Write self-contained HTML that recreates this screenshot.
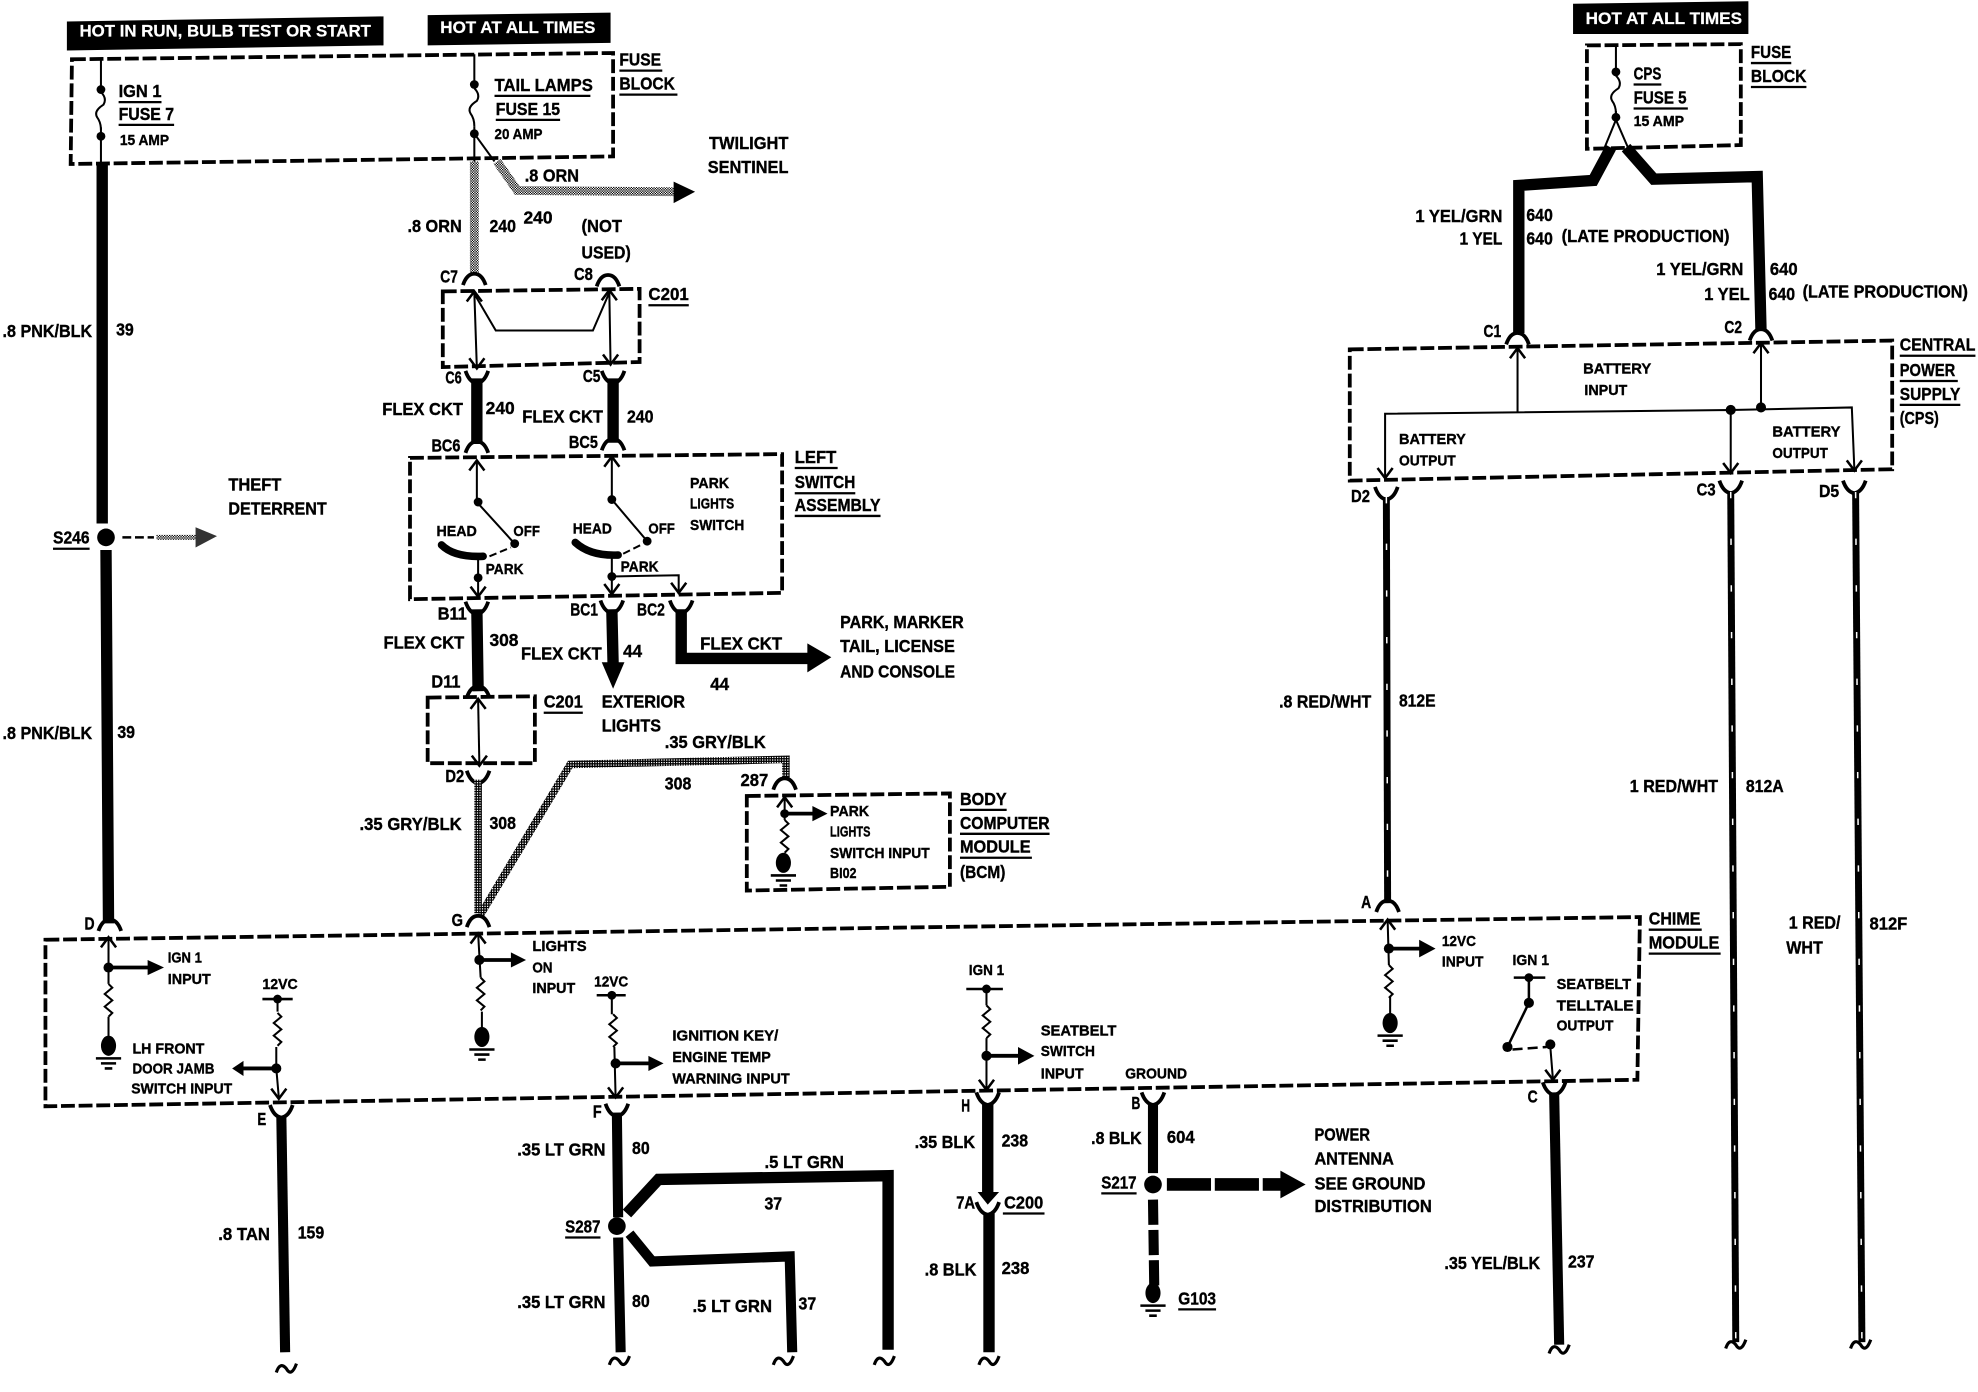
<!DOCTYPE html>
<html><head><meta charset="utf-8"><title>Chime module wiring diagram</title>
<style>
html,body{margin:0;padding:0;background:#fff}
svg{display:block}
text{font-family:"Liberation Sans",sans-serif;font-weight:bold;font-size:14px;fill:#000;stroke:#000;stroke-width:.3}
.s{font-size:12px}
.w{fill:#fff;stroke:#fff;stroke-width:.2;font-size:13px}
.d{fill:none;stroke:#000;stroke-width:3;stroke-dasharray:11 3}
.l{fill:none;stroke:#000;stroke-width:1.6}
.u{fill:none;stroke:#000;stroke-width:1.8}
.a{fill:none;stroke:#000;stroke-width:3}
.k{fill:none;stroke:#000;stroke-width:9}
.g{fill:none;stroke:url(#dith);stroke-width:6}
.o{fill:none;stroke:url(#dith2);stroke-width:7}
.h{fill:none;stroke:#000;stroke-width:5.5}
.hw{fill:none;stroke:#fff;stroke-width:1.2;stroke-dasharray:5 32}
</style></head><body>
<svg xmlns="http://www.w3.org/2000/svg" width="1978" height="1392" viewBox="0 0 1568 1103.5">
<defs>
<pattern id="dith" patternUnits="userSpaceOnUse" width="2" height="2"><rect width="2" height="2" fill="#000"/><rect width="1" height="1" fill="#fff"/></pattern>
<pattern id="dith2" patternUnits="userSpaceOnUse" width="2" height="2"><rect width="2" height="2" fill="#fff"/><rect width="1" height="1" fill="#000"/><rect x="1" y="1" width="1" height="1" fill="#000"/></pattern>
<g id="au"><path d="M-9 5Q-6 -4 0 -4Q6 -4 9 5" fill="none" stroke="#000" stroke-width="3"/></g>
<g id="ad"><path d="M-9 -6Q-6 3 0 4Q6 3 9 -6" fill="none" stroke="#000" stroke-width="3"/></g>
<g id="cu"><path d="M-6 8L0 0L6 8" fill="none" stroke="#000" stroke-width="2"/></g>
<g id="cd"><path d="M-6 -8L0 0L6 -8" fill="none" stroke="#000" stroke-width="2"/></g>
<g id="res"><path d="M0 0l3 3l-6 5l6 5l-6 5l6 5l-3 3" fill="none" stroke="#000" stroke-width="1.6"/></g>
<g id="fu"><path d="M0 0Q5 5 2 10Q-6 15 -3 20Q0 24 0 30" fill="none" stroke="#000" stroke-width="1.6"/></g>
<g id="gnd"><ellipse cx="0" cy="0" rx="6" ry="8"/><path d="M-10 10H10M-6 14H6M-3 18H3" stroke="#000" stroke-width="2"/></g>
<g id="ti"><path d="M-8 5Q-5 -4 0 2Q4 9 8 -2" fill="none" stroke="#000" stroke-width="2.5"/></g>
</defs>
<rect width="1568" height="1104" fill="#fff"/>

<!-- headers -->
<polygon points="53,17 304,13 304,36 53,40"/>
<polygon points="339,12 484,10 484,34 339,36"/>
<polygon points="1247,3 1386,1 1386,27 1247,27"/>
<text class="w" x="63" y="29" textLength="231" lengthAdjust="spacingAndGlyphs">HOT IN RUN, BULB TEST OR START</text>
<text class="w" x="349" y="26" textLength="123" lengthAdjust="spacingAndGlyphs">HOT AT ALL TIMES</text>
<text class="w" x="1257" y="19" textLength="124" lengthAdjust="spacingAndGlyphs">HOT AT ALL TIMES</text>

<!-- dashed boxes -->
<path class="d" d="M57 47L486 42L486 124L56 130Z"/>
<path class="d" d="M351 231L507 229L507 287L351 291Z"/>
<path class="d" d="M325 363L620 360L620 470L325 475Z"/>
<path class="d" d="M339 553L424 552L424 605L339 605Z"/>
<path class="d" d="M592 631L753 629L753 703L592 706Z"/>
<path class="d" d="M36 745L1300 727L1298 856L36 877Z"/>
<path class="d" d="M1258 36L1380 35L1380 115L1258 118Z"/>
<path class="d" d="M1070 277L1500 270L1500 372L1070 381Z"/>

<!-- left fuse -->
<path class="l" d="M80 46V71M80 101V129"/>
<use href="#fu" x="80" y="73"/>
<circle cx="80" cy="71" r="3.5"/><circle cx="80" cy="108" r="3.5"/>
<text x="94" y="77" textLength="34" lengthAdjust="spacingAndGlyphs">IGN 1</text><path class="u" d="M94 81H128"/>
<text x="94" y="95" textLength="44" lengthAdjust="spacingAndGlyphs">FUSE 7</text><path class="u" d="M94 99H138"/>
<text class="s" x="95" y="115" textLength="39" lengthAdjust="spacingAndGlyphs">15 AMP</text>
<!-- left wire -->
<path class="k" d="M81 129V415M84 436L86 732"/>
<circle cx="84" cy="426" r="7"/>
<path class="a" style="stroke-width:2;stroke-dasharray:7 3" d="M97 426H122"/>
<path class="o" style="stroke-width:4" d="M124 426H156"/>
<polygon points="155,418 172,425 155,434" fill="#333"/>
<text x="2" y="267" textLength="71" lengthAdjust="spacingAndGlyphs">.8 PNK/BLK</text>
<text x="92" y="266" textLength="14" lengthAdjust="spacingAndGlyphs">39</text>
<text x="2" y="586" textLength="71" lengthAdjust="spacingAndGlyphs">.8 PNK/BLK</text>
<text x="93" y="585" textLength="14" lengthAdjust="spacingAndGlyphs">39</text>
<text x="42" y="431" textLength="29" lengthAdjust="spacingAndGlyphs">S246</text><path class="u" d="M42 435H71"/>
<text x="181" y="389" textLength="42" lengthAdjust="spacingAndGlyphs">THEFT</text>
<text x="181" y="408" textLength="78" lengthAdjust="spacingAndGlyphs">DETERRENT</text>

<!-- tail lamp fuse -->
<path class="l" d="M376 43V67M376 100V128M376 106L392 128"/>
<use href="#fu" x="376" y="70"/>
<circle cx="376" cy="67" r="3.5"/><circle cx="376" cy="106" r="3.5"/>
<text x="392" y="72" textLength="78" lengthAdjust="spacingAndGlyphs">TAIL LAMPS</text><path class="u" d="M392 76H468"/>
<text x="393" y="91" textLength="51" lengthAdjust="spacingAndGlyphs">FUSE 15</text><path class="u" d="M393 95H444"/>
<text class="s" x="392" y="110" textLength="38" lengthAdjust="spacingAndGlyphs">20 AMP</text>
<text x="491" y="52" textLength="33" lengthAdjust="spacingAndGlyphs">FUSE</text><path class="u" d="M491 56H525"/>
<text x="491" y="71" textLength="44" lengthAdjust="spacingAndGlyphs">BLOCK</text><path class="u" d="M491 75H537"/>
<path class="o" d="M376 128V218M394 128L410 151L535 152"/>
<polygon points="534,144 551,152 534,161"/>
<text x="416" y="144" textLength="43" lengthAdjust="spacingAndGlyphs">.8 ORN</text>
<text x="562" y="118" textLength="63" lengthAdjust="spacingAndGlyphs">TWILIGHT</text>
<text x="561" y="137" textLength="64" lengthAdjust="spacingAndGlyphs">SENTINEL</text>
<text x="323" y="184" textLength="43" lengthAdjust="spacingAndGlyphs">.8 ORN</text>
<text x="388" y="184" textLength="21" lengthAdjust="spacingAndGlyphs">240</text>
<text x="415" y="177" textLength="23" lengthAdjust="spacingAndGlyphs">240</text>
<text x="461" y="184" textLength="32" lengthAdjust="spacingAndGlyphs">(NOT</text>
<text x="461" y="205" textLength="39" lengthAdjust="spacingAndGlyphs">USED)</text>

<!-- C201 upper -->
<text x="349" y="224" textLength="14" lengthAdjust="spacingAndGlyphs">C7</text>
<text x="455" y="222" textLength="15" lengthAdjust="spacingAndGlyphs">C8</text>
<use href="#au" x="376" y="221"/><use href="#au" x="482" y="222"/>
<use href="#cu" x="376" y="231"/><use href="#cu" x="483" y="230"/>
<use href="#cd" x="378" y="292"/><use href="#cd" x="484" y="289"/>
<path class="l" d="M376 232L378 292M483 231L484 289M376 233L393 262H470L483 232"/>
<text x="514" y="238" textLength="32" lengthAdjust="spacingAndGlyphs">C201</text><path class="u" d="M514 242H546"/>
<use href="#ad" x="378" y="300"/><use href="#ad" x="486" y="300"/>
<path class="k" d="M378 300V352M486 300V351"/>
<use href="#au" x="378" y="354"/><use href="#au" x="486" y="352"/>
<text x="353" y="304" textLength="13" lengthAdjust="spacingAndGlyphs">C6</text>
<text x="462" y="303" textLength="14" lengthAdjust="spacingAndGlyphs">C5</text>
<text x="303" y="329" textLength="64" lengthAdjust="spacingAndGlyphs">FLEX CKT</text>
<text x="385" y="328" textLength="23" lengthAdjust="spacingAndGlyphs">240</text>
<text x="414" y="335" textLength="64" lengthAdjust="spacingAndGlyphs">FLEX CKT</text>
<text x="497" y="335" textLength="21" lengthAdjust="spacingAndGlyphs">240</text>
<text x="342" y="358" textLength="23" lengthAdjust="spacingAndGlyphs">BC6</text>
<text x="451" y="355" textLength="23" lengthAdjust="spacingAndGlyphs">BC5</text>

<!-- left switch assembly -->
<text x="630" y="367" textLength="33" lengthAdjust="spacingAndGlyphs">LEFT</text><path class="u" d="M630 371H664"/>
<text x="630" y="387" textLength="48" lengthAdjust="spacingAndGlyphs">SWITCH</text><path class="u" d="M630 391H678"/>
<text x="630" y="405" textLength="68" lengthAdjust="spacingAndGlyphs">ASSEMBLY</text><path class="u" d="M630 409H698"/>
<text class="s" x="547" y="387" textLength="31" lengthAdjust="spacingAndGlyphs">PARK</text>
<text class="s" x="547" y="403" textLength="35" lengthAdjust="spacingAndGlyphs">LIGHTS</text>
<text class="s" x="547" y="420" textLength="43" lengthAdjust="spacingAndGlyphs">SWITCH</text>
<use href="#cu" x="378" y="365"/><use href="#cu" x="485" y="362"/>
<path class="l" d="M378 365V398L408 431"/>
<path class="l" d="M485 362V396L513 429"/>
<circle cx="379" cy="398" r="3.5"/><circle cx="408" cy="431" r="3.5"/>
<circle cx="485" cy="396" r="3.5"/><circle cx="513" cy="429" r="3.5"/>
<path d="M350 432Q360 442 383 441" fill="none" stroke="#000" stroke-width="6" stroke-linecap="round"/>
<path d="M456 430Q468 441 490 440" fill="none" stroke="#000" stroke-width="6" stroke-linecap="round"/>
<path class="l" d="M388 441L405 434M494 439L510 431" stroke-dasharray="6 3"/>
<text class="s" x="346" y="425" textLength="32" lengthAdjust="spacingAndGlyphs">HEAD</text>
<text class="s" x="407" y="425" textLength="21" lengthAdjust="spacingAndGlyphs">OFF</text>
<text class="s" x="454" y="423" textLength="31" lengthAdjust="spacingAndGlyphs">HEAD</text>
<text class="s" x="514" y="423" textLength="21" lengthAdjust="spacingAndGlyphs">OFF</text>
<text class="s" x="385" y="455" textLength="30" lengthAdjust="spacingAndGlyphs">PARK</text>
<text class="s" x="492" y="453" textLength="30" lengthAdjust="spacingAndGlyphs">PARK</text>
<path class="l" d="M379 441V472M485 440V471M485 457L538 456V471"/>
<circle cx="379" cy="458" r="3.5"/><circle cx="485" cy="457" r="3.5"/>
<use href="#cd" x="379" y="473"/><use href="#cd" x="485" y="471"/><use href="#cd" x="538" y="470"/>

<!-- below switch -->
<use href="#ad" x="378" y="483"/><use href="#ad" x="485" y="482"/><use href="#ad" x="540" y="482"/>
<text x="347" y="491" textLength="23" lengthAdjust="spacingAndGlyphs">B11</text>
<text x="452" y="488" textLength="22" lengthAdjust="spacingAndGlyphs">BC1</text>
<text x="505" y="488" textLength="22" lengthAdjust="spacingAndGlyphs">BC2</text>
<path class="k" d="M378 483L379 548M485 483L486 526M540 483V522H641"/>
<polygon points="477,525 495,525 486,546"/>
<polygon points="640,510 659,521 640,533"/>
<text x="304" y="514" textLength="64" lengthAdjust="spacingAndGlyphs">FLEX CKT</text>
<text x="388" y="512" textLength="23" lengthAdjust="spacingAndGlyphs">308</text>
<text x="413" y="523" textLength="64" lengthAdjust="spacingAndGlyphs">FLEX CKT</text>
<text x="494" y="521" textLength="15" lengthAdjust="spacingAndGlyphs">44</text>
<text x="555" y="515" textLength="65" lengthAdjust="spacingAndGlyphs">FLEX CKT</text>
<text x="563" y="547" textLength="15" lengthAdjust="spacingAndGlyphs">44</text>
<text x="666" y="498" textLength="98" lengthAdjust="spacingAndGlyphs">PARK, MARKER</text>
<text x="666" y="517" textLength="91" lengthAdjust="spacingAndGlyphs">TAIL, LICENSE</text>
<text x="666" y="537" textLength="91" lengthAdjust="spacingAndGlyphs">AND CONSOLE</text>
<text x="477" y="561" textLength="66" lengthAdjust="spacingAndGlyphs">EXTERIOR</text>
<text x="477" y="580" textLength="47" lengthAdjust="spacingAndGlyphs">LIGHTS</text>
<use href="#au" x="379" y="548"/>
<text x="342" y="545" textLength="23" lengthAdjust="spacingAndGlyphs">D11</text>
<text x="431" y="561" textLength="31" lengthAdjust="spacingAndGlyphs">C201</text><path class="u" d="M431 565H462"/>
<path class="l" d="M379 555L380 606"/>
<use href="#cu" x="379" y="554"/><use href="#cd" x="380" y="607"/>
<use href="#ad" x="379" y="617"/>
<text x="353" y="620" textLength="15" lengthAdjust="spacingAndGlyphs">D2</text>
<path class="g" d="M379 618V724"/>
<path class="g" d="M381 725L452 606L623 602V618"/>
<text x="285" y="658" textLength="81" lengthAdjust="spacingAndGlyphs">.35 GRY/BLK</text>
<text x="388" y="657" textLength="21" lengthAdjust="spacingAndGlyphs">308</text>
<text x="527" y="593" textLength="80" lengthAdjust="spacingAndGlyphs">.35 GRY/BLK</text>
<text x="527" y="626" textLength="21" lengthAdjust="spacingAndGlyphs">308</text>
<text x="587" y="623" textLength="22" lengthAdjust="spacingAndGlyphs">287</text>
<use href="#au" x="622" y="621"/>

<!-- BCM -->
<use href="#cu" x="622" y="632"/>
<path class="l" d="M622 632V650"/>
<circle cx="622" cy="645" r="3.5"/>
<path class="a" d="M622 645H645"/><polygon points="644,639 656,645 644,651"/>
<use href="#res" x="622" y="650"/>
<use href="#gnd" x="621" y="684"/>
<text class="s" x="658" y="647" textLength="31" lengthAdjust="spacingAndGlyphs">PARK</text>
<text class="s" x="658" y="663" textLength="32" lengthAdjust="spacingAndGlyphs">LIGHTS</text>
<text class="s" x="658" y="680" textLength="79" lengthAdjust="spacingAndGlyphs">SWITCH INPUT</text>
<text class="s" x="658" y="696" textLength="21" lengthAdjust="spacingAndGlyphs">BI02</text>
<text x="761" y="638" textLength="37" lengthAdjust="spacingAndGlyphs">BODY</text><path class="u" d="M761 642H798"/>
<text x="761" y="657" textLength="71" lengthAdjust="spacingAndGlyphs">COMPUTER</text><path class="u" d="M761 661H832"/>
<text x="761" y="676" textLength="56" lengthAdjust="spacingAndGlyphs">MODULE</text><path class="u" d="M761 680H818"/>
<text x="761" y="696" textLength="36" lengthAdjust="spacingAndGlyphs">(BCM)</text>

<!-- chime module -->
<text x="1307" y="733" textLength="41" lengthAdjust="spacingAndGlyphs">CHIME</text><path class="u" d="M1307 737H1349"/>
<text x="1307" y="752" textLength="56" lengthAdjust="spacingAndGlyphs">MODULE</text><path class="u" d="M1307 756H1364"/>

<!-- D -->
<use href="#au" x="87" y="733"/>
<text x="67" y="737" textLength="8" lengthAdjust="spacingAndGlyphs">D</text>
<use href="#cu" x="86" y="743"/>
<path class="l" d="M86 743V780M86 806V822"/>
<circle cx="86" cy="767" r="4"/>
<path class="a" d="M86 767H118"/><polygon points="117,761 130,767 117,773"/>
<use href="#res" x="86" y="780"/>
<use href="#gnd" x="86" y="829"/>
<text class="s" x="133" y="763" textLength="27" lengthAdjust="spacingAndGlyphs">IGN 1</text>
<text class="s" x="133" y="780" textLength="34" lengthAdjust="spacingAndGlyphs">INPUT</text>
<text class="s" x="105" y="835" textLength="57" lengthAdjust="spacingAndGlyphs">LH FRONT</text>
<text class="s" x="105" y="851" textLength="65" lengthAdjust="spacingAndGlyphs">DOOR JAMB</text>
<text class="s" x="104" y="867" textLength="80" lengthAdjust="spacingAndGlyphs">SWITCH INPUT</text>
<text class="s" x="208" y="784" textLength="28" lengthAdjust="spacingAndGlyphs">12VC</text>
<path class="a" style="stroke-width:2" d="M208 792H232"/><circle cx="220" cy="792" r="3.5"/>
<path class="l" d="M220 792V802M219 830V847L221 870"/>
<use href="#res" x="220" y="803"/>
<circle cx="219" cy="847" r="4"/>
<path class="a" d="M219 847H192"/><polygon points="193,841 184,847 193,853"/>
<use href="#cd" x="221" y="871"/>
<use href="#ad" x="223" y="882"/>
<text x="204" y="892" textLength="7" lengthAdjust="spacingAndGlyphs">E</text>
<path class="k" style="stroke-width:8" d="M223 885L226 1072"/>
<use href="#ti" x="227" y="1083"/>
<text x="173" y="983" textLength="41" lengthAdjust="spacingAndGlyphs">.8 TAN</text>
<text x="236" y="982" textLength="21" lengthAdjust="spacingAndGlyphs">159</text>

<!-- G -->
<use href="#au" x="379" y="730"/>
<text x="358" y="734" textLength="9" lengthAdjust="spacingAndGlyphs">G</text>
<use href="#cu" x="379" y="740"/>
<path class="l" d="M379 740L381 775M382 802V815"/>
<circle cx="380" cy="761" r="4"/>
<path class="a" d="M380 761H406"/><polygon points="405,755 417,761 405,767"/>
<use href="#res" x="381" y="775"/>
<use href="#gnd" x="382" y="822"/>
<text class="s" x="422" y="754" textLength="43" lengthAdjust="spacingAndGlyphs">LIGHTS</text>
<text class="s" x="422" y="771" textLength="16" lengthAdjust="spacingAndGlyphs">ON</text>
<text class="s" x="422" y="787" textLength="34" lengthAdjust="spacingAndGlyphs">INPUT</text>

<!-- F -->
<text class="s" x="471" y="782" textLength="27" lengthAdjust="spacingAndGlyphs">12VC</text>
<path class="a" style="stroke-width:2" d="M473 789H496"/><circle cx="485" cy="789" r="3.5"/>
<path class="l" d="M485 789V804M487 830L488 870"/>
<use href="#res" x="486" y="804"/>
<circle cx="488" cy="843" r="4"/>
<path class="a" d="M488 843H515"/><polygon points="514,837 526,843 514,849"/>
<use href="#cd" x="488" y="870"/>
<text class="s" x="533" y="825" textLength="84" lengthAdjust="spacingAndGlyphs">IGNITION KEY/</text>
<text class="s" x="533" y="842" textLength="78" lengthAdjust="spacingAndGlyphs">ENGINE TEMP</text>
<text class="s" x="533" y="859" textLength="93" lengthAdjust="spacingAndGlyphs">WARNING INPUT</text>
<use href="#ad" x="489" y="881"/>
<text x="470" y="886" textLength="7" lengthAdjust="spacingAndGlyphs">F</text>
<path class="k" style="stroke-width:8" d="M489 882L490 965M490 981L492 1072"/>
<circle cx="489" cy="972" r="7"/>
<text x="448" y="977" textLength="28" lengthAdjust="spacingAndGlyphs">S287</text><path class="u" d="M448 981H476"/>
<path class="k" d="M497 962L522 935L704 932L704 1070"/>
<path class="k" style="stroke-width:8" d="M499 978L517 1000L626 996L628 1072"/>
<use href="#ti" x="491" y="1077"/><use href="#ti" x="621" y="1077"/><use href="#ti" x="701" y="1077"/>
<text x="410" y="916" textLength="70" lengthAdjust="spacingAndGlyphs">.35 LT GRN</text>
<text x="501" y="915" textLength="14" lengthAdjust="spacingAndGlyphs">80</text>
<text x="410" y="1037" textLength="70" lengthAdjust="spacingAndGlyphs">.35 LT GRN</text>
<text x="501" y="1036" textLength="14" lengthAdjust="spacingAndGlyphs">80</text>
<text x="606" y="926" textLength="63" lengthAdjust="spacingAndGlyphs">.5 LT GRN</text>
<text x="606" y="959" textLength="14" lengthAdjust="spacingAndGlyphs">37</text>
<text x="549" y="1040" textLength="63" lengthAdjust="spacingAndGlyphs">.5 LT GRN</text>
<text x="633" y="1038" textLength="14" lengthAdjust="spacingAndGlyphs">37</text>

<!-- H -->
<text class="s" x="768" y="773" textLength="28" lengthAdjust="spacingAndGlyphs">IGN 1</text>
<path class="a" style="stroke-width:2" d="M766 784H795"/><circle cx="782" cy="784" r="3.5"/>
<path class="l" d="M782 784V797M782 823V863"/>
<use href="#res" x="782" y="797"/>
<circle cx="782" cy="837" r="4"/>
<path class="a" d="M782 837H808"/><polygon points="807,830 820,837 807,844"/>
<use href="#cd" x="782" y="864"/>
<text class="s" x="825" y="821" textLength="60" lengthAdjust="spacingAndGlyphs">SEATBELT</text>
<text class="s" x="825" y="837" textLength="43" lengthAdjust="spacingAndGlyphs">SWITCH</text>
<text class="s" x="825" y="855" textLength="34" lengthAdjust="spacingAndGlyphs">INPUT</text>
<text class="s" x="892" y="855" textLength="49" lengthAdjust="spacingAndGlyphs">GROUND</text>
<use href="#ad" x="783" y="872"/>
<text x="762" y="881" textLength="7" lengthAdjust="spacingAndGlyphs">H</text>
<path class="k" d="M783 875V946M784 962V1072"/>
<polygon points="775,945 792,945 783,955"/>
<use href="#ad" x="783" y="959"/>
<use href="#ti" x="784" y="1077"/>
<text x="725" y="910" textLength="48" lengthAdjust="spacingAndGlyphs">.35 BLK</text>
<text x="794" y="909" textLength="21" lengthAdjust="spacingAndGlyphs">238</text>
<text x="758" y="958" textLength="15" lengthAdjust="spacingAndGlyphs">7A</text>
<text x="796" y="958" textLength="31" lengthAdjust="spacingAndGlyphs">C200</text><path class="u" d="M795 962H828"/>
<text x="733" y="1011" textLength="41" lengthAdjust="spacingAndGlyphs">.8 BLK</text>
<text x="794" y="1010" textLength="22" lengthAdjust="spacingAndGlyphs">238</text>

<!-- B / ground -->
<use href="#ad" x="914" y="872"/>
<text x="897" y="879" textLength="7" lengthAdjust="spacingAndGlyphs">B</text>
<path class="k" style="stroke-width:8" d="M914 875V930"/>
<circle cx="914" cy="939" r="7"/>
<path class="k" style="stroke-width:10;stroke-dasharray:35 3" d="M925 939H1016"/>
<polygon points="1015,928 1035,939 1015,950"/>
<path class="k" style="stroke-width:8;stroke-dasharray:20 4" d="M914 951L915 1020"/>
<use href="#gnd" x="914" y="1025"/>
<text x="865" y="907" textLength="40" lengthAdjust="spacingAndGlyphs">.8 BLK</text>
<text x="925" y="906" textLength="22" lengthAdjust="spacingAndGlyphs">604</text>
<text x="873" y="942" textLength="28" lengthAdjust="spacingAndGlyphs">S217</text><path class="u" d="M873 946H901"/>
<text x="934" y="1034" textLength="30" lengthAdjust="spacingAndGlyphs">G103</text><path class="u" d="M934 1038H964"/>
<text x="1042" y="904" textLength="44" lengthAdjust="spacingAndGlyphs">POWER</text>
<text x="1042" y="923" textLength="63" lengthAdjust="spacingAndGlyphs">ANTENNA</text>
<text x="1042" y="943" textLength="88" lengthAdjust="spacingAndGlyphs">SEE GROUND</text>
<text x="1042" y="961" textLength="93" lengthAdjust="spacingAndGlyphs">DISTRIBUTION</text>

<!-- A -->
<use href="#au" x="1100" y="718"/>
<text x="1079" y="720" textLength="8" lengthAdjust="spacingAndGlyphs">A</text>
<use href="#cu" x="1100" y="729"/>
<path class="l" d="M1100 729L1101 765M1102 790V805"/>
<circle cx="1101" cy="752" r="4"/>
<path class="a" d="M1101 752H1126"/><polygon points="1125,745 1138,752 1125,759"/>
<use href="#res" x="1101" y="765"/>
<use href="#gnd" x="1102" y="811"/>
<text class="s" x="1143" y="750" textLength="27" lengthAdjust="spacingAndGlyphs">12VC</text>
<text class="s" x="1143" y="766" textLength="33" lengthAdjust="spacingAndGlyphs">INPUT</text>
<text class="s" x="1199" y="765" textLength="29" lengthAdjust="spacingAndGlyphs">IGN 1</text>
<path class="a" style="stroke-width:2" d="M1200 775H1225"/><circle cx="1212" cy="775" r="3.5"/>
<path class="a" style="stroke-width:2" d="M1212 775V795L1195 830"/>
<circle cx="1212" cy="795" r="4"/><circle cx="1195" cy="830" r="4"/><circle cx="1229" cy="828" r="4"/>
<path class="a" style="stroke-width:2;stroke-dasharray:8 4" d="M1199 832L1226 830"/>
<path class="l" d="M1229 830L1231 855"/>
<use href="#cd" x="1231" y="856"/>
<text class="s" x="1234" y="784" textLength="59" lengthAdjust="spacingAndGlyphs">SEATBELT</text>
<text class="s" x="1234" y="801" textLength="61" lengthAdjust="spacingAndGlyphs">TELLTALE</text>
<text class="s" x="1234" y="817" textLength="45" lengthAdjust="spacingAndGlyphs">OUTPUT</text>
<use href="#ad" x="1232" y="864"/>
<text x="1211" y="874" textLength="8" lengthAdjust="spacingAndGlyphs">C</text>
<path class="k" style="stroke-width:8" d="M1232 866L1236 1066"/>
<use href="#ti" x="1236" y="1068"/>
<text x="1145" y="1006" textLength="76" lengthAdjust="spacingAndGlyphs">.35 YEL/BLK</text>
<text x="1243" y="1005" textLength="21" lengthAdjust="spacingAndGlyphs">237</text>

<!-- top right fuse -->
<path class="l" d="M1281 35V57M1281 88V95M1281 95L1272 117M1281 95L1291 118"/>
<use href="#fu" x="1281" y="60"/>
<circle cx="1281" cy="57" r="3.5"/><circle cx="1281" cy="93" r="3.5"/>
<text x="1295" y="63" textLength="22" lengthAdjust="spacingAndGlyphs">CPS</text><path class="u" d="M1295 67H1317"/>
<text x="1295" y="82" textLength="42" lengthAdjust="spacingAndGlyphs">FUSE 5</text><path class="u" d="M1295 86H1338"/>
<text class="s" x="1295" y="100" textLength="40" lengthAdjust="spacingAndGlyphs">15 AMP</text>
<text x="1388" y="46" textLength="32" lengthAdjust="spacingAndGlyphs">FUSE</text><path class="u" d="M1388 50H1420"/>
<text x="1388" y="65" textLength="44" lengthAdjust="spacingAndGlyphs">BLOCK</text><path class="u" d="M1388 69H1432"/>
<path class="k" d="M1277 117L1263 143L1204 147V264M1289 117L1311 142L1393 140L1396 262"/>
<text x="1122" y="176" textLength="69" lengthAdjust="spacingAndGlyphs">1 YEL/GRN</text>
<text x="1210" y="175" textLength="21" lengthAdjust="spacingAndGlyphs">640</text>
<text x="1157" y="194" textLength="34" lengthAdjust="spacingAndGlyphs">1 YEL</text>
<text x="1210" y="194" textLength="21" lengthAdjust="spacingAndGlyphs">640</text>
<text x="1238" y="192" textLength="133" lengthAdjust="spacingAndGlyphs">(LATE PRODUCTION)</text>
<text x="1313" y="218" textLength="69" lengthAdjust="spacingAndGlyphs">1 YEL/GRN</text>
<text x="1403" y="218" textLength="22" lengthAdjust="spacingAndGlyphs">640</text>
<text x="1351" y="238" textLength="36" lengthAdjust="spacingAndGlyphs">1 YEL</text>
<text x="1402" y="238" textLength="21" lengthAdjust="spacingAndGlyphs">640</text>
<text x="1429" y="236" textLength="131" lengthAdjust="spacingAndGlyphs">(LATE PRODUCTION)</text>

<!-- CPS -->
<text x="1176" y="267" textLength="14" lengthAdjust="spacingAndGlyphs">C1</text>
<text x="1367" y="264" textLength="14" lengthAdjust="spacingAndGlyphs">C2</text>
<use href="#au" x="1203" y="268"/><use href="#au" x="1396" y="265"/>
<use href="#cu" x="1203" y="276"/><use href="#cu" x="1396" y="272"/>
<path class="l" d="M1203 276V327M1396 272V323M1098 378V328L1372 325L1468 323L1470 372M1372 325V374"/>
<circle cx="1372" cy="325" r="4"/><circle cx="1396" cy="323" r="4"/>
<use href="#cd" x="1098" y="379"/><use href="#cd" x="1372" y="375"/><use href="#cd" x="1470" y="373"/>
<text class="s" x="1255" y="296" textLength="54" lengthAdjust="spacingAndGlyphs">BATTERY</text>
<text class="s" x="1256" y="313" textLength="34" lengthAdjust="spacingAndGlyphs">INPUT</text>
<text class="s" x="1109" y="352" textLength="53" lengthAdjust="spacingAndGlyphs">BATTERY</text>
<text class="s" x="1109" y="369" textLength="45" lengthAdjust="spacingAndGlyphs">OUTPUT</text>
<text class="s" x="1405" y="346" textLength="54" lengthAdjust="spacingAndGlyphs">BATTERY</text>
<text class="s" x="1405" y="363" textLength="44" lengthAdjust="spacingAndGlyphs">OUTPUT</text>
<text x="1506" y="278" textLength="60" lengthAdjust="spacingAndGlyphs">CENTRAL</text><path class="u" d="M1506 282H1566"/>
<text x="1506" y="298" textLength="44" lengthAdjust="spacingAndGlyphs">POWER</text><path class="u" d="M1506 302H1552"/>
<text x="1506" y="317" textLength="48" lengthAdjust="spacingAndGlyphs">SUPPLY</text><path class="u" d="M1506 321H1554"/>
<text x="1506" y="336" textLength="31" lengthAdjust="spacingAndGlyphs">(CPS)</text>
<use href="#ad" x="1099" y="392"/><use href="#ad" x="1372" y="387"/><use href="#ad" x="1470" y="387"/>
<text x="1071" y="398" textLength="15" lengthAdjust="spacingAndGlyphs">D2</text>
<text x="1345" y="393" textLength="15" lengthAdjust="spacingAndGlyphs">C3</text>
<text x="1442" y="394" textLength="16" lengthAdjust="spacingAndGlyphs">D5</text>

<!-- right long wires -->
<path class="h" d="M1099 394L1100 716"/><path class="hw" d="M1099 394L1100 716"/>
<path class="h" d="M1372 390L1376 1064"/><path class="hw" d="M1372 390L1376 1064"/>
<path class="h" d="M1471 390L1476 1064"/><path class="hw" d="M1471 390L1476 1064"/>
<use href="#ti" x="1376" y="1064"/><use href="#ti" x="1475" y="1064"/>
<text x="1014" y="561" textLength="73" lengthAdjust="spacingAndGlyphs">.8 RED/WHT</text>
<text x="1109" y="560" textLength="29" lengthAdjust="spacingAndGlyphs">812E</text>
<text x="1292" y="628" textLength="70" lengthAdjust="spacingAndGlyphs">1 RED/WHT</text>
<text x="1384" y="628" textLength="30" lengthAdjust="spacingAndGlyphs">812A</text>
<text x="1418" y="736" textLength="41" lengthAdjust="spacingAndGlyphs">1 RED/</text>
<text x="1416" y="756" textLength="29" lengthAdjust="spacingAndGlyphs">WHT</text>
<text x="1482" y="737" textLength="30" lengthAdjust="spacingAndGlyphs">812F</text>
</svg>
</body></html>
